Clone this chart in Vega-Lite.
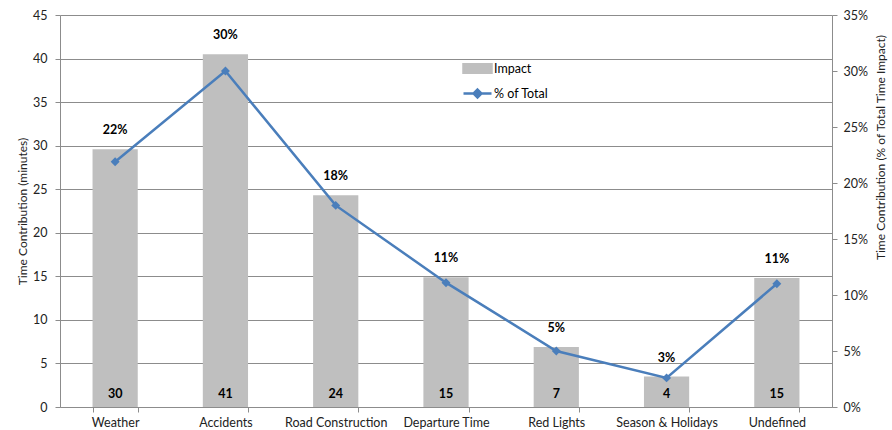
{
  "$schema": "https://vega.github.io/schema/vega-lite/v6.json",
  "width": 772,
  "height": 392,
  "autosize": {"type": "none"},
  "padding": {"left": 60, "top": 15, "right": 60, "bottom": 23},
  "config": {
    "font": "Lato",
    "view": {"stroke": null},
    "axis": {
      "labelFont": "Lato",
      "labelFontSize": 12.5,
      "labelColor": "#222222",
      "titleFont": "Lato",
      "titleFontSize": 12,
      "titleFontWeight": "normal",
      "titleColor": "#222222",
      "domainColor": "#8C8C8C",
      "tickColor": "#8C8C8C",
      "gridColor": "#8C8C8C",
      "tickSize": 5
    }
  },
  "data": {
    "values": [
      {"category": "Weather", "impact": 29.6, "pct": 0.219},
      {"category": "Accidents", "impact": 40.5, "pct": 0.300},
      {"category": "Road Construction", "impact": 24.3, "pct": 0.180},
      {"category": "Departure Time", "impact": 14.9, "pct": 0.111},
      {"category": "Red Lights", "impact": 6.9, "pct": 0.050},
      {"category": "Season & Holidays", "impact": 3.5, "pct": 0.026},
      {"category": "Undefined", "impact": 14.8, "pct": 0.110}
    ]
  },
  "encoding": {
    "x": {
      "field": "category",
      "type": "nominal",
      "sort": null,
      "scale": {"paddingInner": 0.59, "paddingOuter": 0.295},
      "axis": {
        "title": null,
        "labelAngle": 0,
        "tickBand": "extent",
        "labelPadding": 4,
        "grid": false
      }
    }
  },
  "layer": [
    {
      "encoding": {
        "y": {
          "field": "impact",
          "type": "quantitative",
          "scale": {"domain": [0, 45], "nice": false},
          "axis": {
            "title": "Time Contribution (minutes)",
            "values": [0, 5, 10, 15, 20, 25, 30, 35, 40, 45],
            "grid": true,
            "labelPadding": 8,
            "titleAngle": -90,
            "titleX": -38,
            "titleY": 196,
            "titleBaseline": "middle",
            "titleAlign": "center"
          }
        }
      },
      "layer": [
        {
          "mark": {"type": "bar"},
          "encoding": {
            "color": {
              "datum": "Impact",
              "type": "nominal",
              "scale": {"domain": ["Impact", "% of Total"], "range": ["#BFBFBF", "#4A7EBB"]},
              "legend": {
                "orient": "none",
                "legendX": 402,
                "legendY": 38,
                "title": null,
                "padding": 0,
                "labelFont": "Lato",
                "labelFontSize": 12.5,
                "labelColor": "#000000",
                "labelOffset": 1,
                "symbolSize": 784,
                "rowPadding": -4,
                "encode": {
                  "symbols": {
                    "update": {
                      "shape": {"signal": "datum.value === 'Impact' ? 'M-1,-0.3H1V0.3H-1Z' : 'M-1,0H1M0,-0.28L0.28,0L0,0.28L-0.28,0Z'"},
                      "fill": {"signal": "datum.value === 'Impact' ? '#BFBFBF' : '#4A7EBB'"},
                      "stroke": {"signal": "datum.value === 'Impact' ? 'transparent' : '#4A7EBB'"},
                      "strokeWidth": {"value": 2.5},
                      "opacity": {"value": 1}
                    }
                  }
                }
              }
            }
          }
        },
        {
          "mark": {"type": "text", "fontWeight": "bold", "fontSize": 12.5, "baseline": "middle", "dy": -13, "color": "#000000"},
          "encoding": {
            "y": {"datum": 0, "type": "quantitative"},
            "text": {"field": "impact", "type": "quantitative", "format": ".0f"}
          }
        },
        {
          "mark": {"type": "text", "fontWeight": "bold", "fontSize": 12.5, "baseline": "middle", "dy": -19, "color": "#000000"},
          "encoding": {
            "text": {"field": "pct", "type": "quantitative", "format": ".0%"}
          }
        }
      ]
    },
    {
      "mark": {
        "type": "line",
        "strokeWidth": 2.5,
        "point": {"shape": "diamond", "size": 80, "filled": true}
      },
      "encoding": {
        "y": {
          "field": "pct",
          "type": "quantitative",
          "scale": {"domain": [0, 0.35], "nice": false},
          "axis": {
            "orient": "right",
            "title": "Time Contribution (% of Total Time Impact)",
            "format": ".0%",
            "values": [0, 0.05, 0.1, 0.15, 0.2, 0.25, 0.3, 0.35],
            "grid": false,
            "labelPadding": 6,
            "titleAngle": -90,
            "titleX": 48,
            "titleY": 132,
            "titleBaseline": "middle",
            "titleAlign": "center"
          }
        },
        "color": {"datum": "% of Total", "type": "nominal"}
      }
    }
  ],
  "resolve": {"scale": {"y": "independent"}}
}
